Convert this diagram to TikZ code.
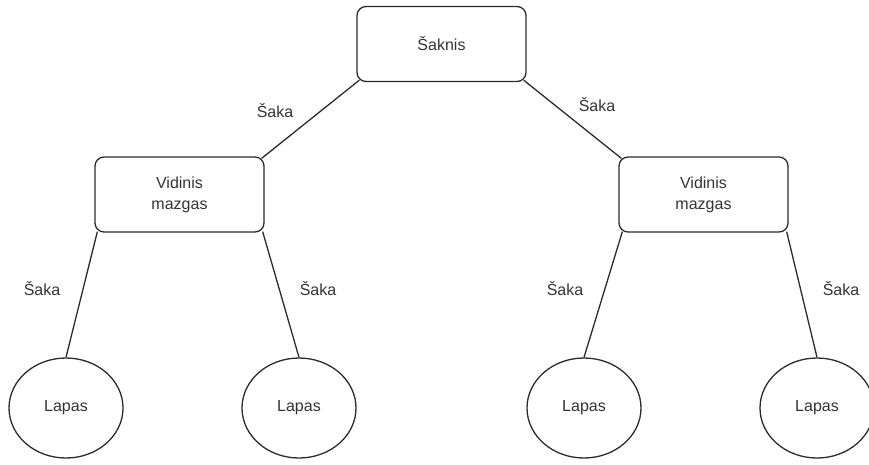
\documentclass[tikz,border=0pt]{standalone}
\usepackage{fontspec}
\setmainfont{Liberation Sans}
\usetikzlibrary{shapes.geometric,calc}
\definecolor{txt}{HTML}{333333}
\definecolor{ln}{HTML}{2B2B2B}
\begin{document}
\begin{tikzpicture}[x=1pt,y=-1pt,
  every node/.style={font=\fontsize{16}{21}\selectfont, text=txt},
  boxnode/.style={draw=ln, line width=1.3pt, rounded corners=9pt, minimum width=169pt, minimum height=75pt, align=center, inner sep=0pt},
  leafnode/.style={draw=ln, line width=1.3pt, ellipse, minimum width=114pt, minimum height=100pt, inner sep=0pt},
  edge/.style={draw=ln, line width=1.3pt},
  lbl/.style={inner sep=0pt}]
\useasboundingbox (0,0) rectangle (869,464);
\node[boxnode] (root) at (441.5,44) {Šaknis};
\node[boxnode] (iL) at (179.5,194.5) {Vidinis\\mazgas};
\node[boxnode] (iR) at (703.5,194.5) {Vidinis\\mazgas};
\node[leafnode] (l1) at (66,408) {Lapas};
\node[leafnode] (l2) at (299,408) {Lapas};
\node[leafnode] (l3) at (584,408) {Lapas};
\node[leafnode] (l4) at (817,408) {Lapas};
\draw[edge] ($(root.south west)+(3,-2)$) -- ($(iL.north east)+(-3,2)$);
\draw[edge] ($(root.south east)+(-3,-2)$) -- ($(iR.north west)+(3,2)$);
\draw[edge] ($(iL.south west)+(3,-1)$) -- (l1.north);
\draw[edge] ($(iL.south east)+(-2,-1)$) -- (l2.north);
\draw[edge] ($(iR.south west)+(4,-1)$) -- (l3.north);
\draw[edge] ($(iR.south east)+(-2,-1)$) -- (l4.north);
\node[lbl] (s1) at (275,111) {Šaka};
\node[lbl] (s2) at (597,105) {Šaka};
\node[lbl] (s3) at (42,289) {Šaka};
\node[lbl] (s4) at (318,289) {Šaka};
\node[lbl] (s5) at (565,289) {Šaka};
\node[lbl] (s6) at (841,289) {Šaka};
\end{tikzpicture}
\end{document}
